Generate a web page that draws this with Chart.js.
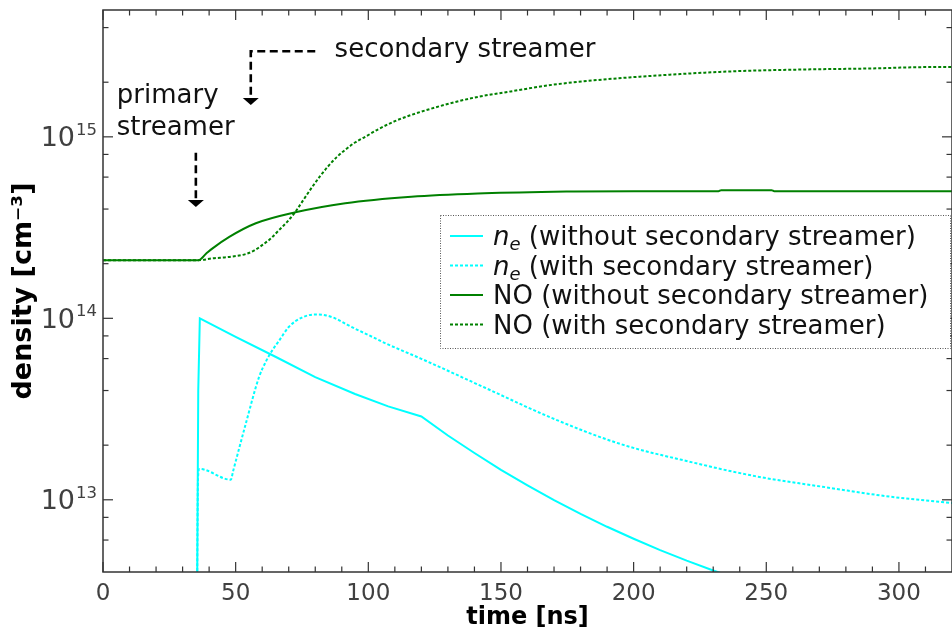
<!DOCTYPE html>
<html><head><meta charset="utf-8">
<script src="https://cdn.jsdelivr.net/npm/chart.js@4.4.0/dist/chart.umd.min.js"></script>
<style>html,body{margin:0;padding:0;background:#fff;}canvas{display:block;}</style>
</head><body>
<canvas id="c" width="952" height="633"></canvas>
<script>
// ---------- data ----------
const seriesNames = [
  'n_e (without secondary streamer)',
  'n_e (with secondary streamer)',
  'NO (without secondary streamer)',
  'NO (with secondary streamer)'
];

const timeNeWithout = [35.3, 35.9, 36.5, 50, 65, 80, 95, 107.5, 120, 130, 140, 150, 160, 170, 180, 190, 200, 210, 220, 230, 240];
const neWithout     = [1e12, 4e13, 1.0e14, 7.91e13, 6.14e13, 4.74e13, 3.83e13, 3.27e13, 2.88e13, 2.26e13, 1.81e13, 1.46e13, 1.20e13, 9.95e12, 8.36e12, 7.10e12, 6.10e12, 5.28e12, 4.62e12, 4.08e12, 3.63e12];

const timeNeWith = [35.3, 35.8, 36.3, 48.2, 49, 53.8, 58.8, 61.3, 63.8, 66.3, 70, 75, 80, 83.8, 87.5, 91.3, 95, 101.2, 106.3, 113.7, 120, 144.2, 169.5, 195, 220.4, 245.8, 271.2, 296.7, 320];
const neWith     = [1e12, 1.3e13, 1.48e13, 1.29e13, 1.43e13, 2.62e13, 4.74e13, 5.74e13, 6.66e13, 7.5e13, 8.96e13, 1.01e14, 1.05e14, 1.04e14, 1.0e14, 9.35e13, 8.77e13, 7.94e13, 7.3e13, 6.55e13, 5.98e13, 4.13e13, 2.81e13, 2.03e13, 1.63e13, 1.35e13, 1.18e13, 1.04e13, 9.6e12];

const timeNOWithout = [0, 36, 39, 41.3, 47.6, 57.6, 72.5, 91.3, 116.2, 141.2, 169.9, 176, 200, 232, 233, 252, 253, 320];
const noWithout     = [2.09e14, 2.09e14, 2.28e14, 2.43e14, 2.81e14, 3.34e14, 3.84e14, 4.31e14, 4.68e14, 4.88e14, 4.99e14, 5.0e14, 5.02e14, 5.02e14, 5.08e14, 5.08e14, 5.02e14, 5.02e14];

const timeNOWith = [0, 36, 41.3, 47.6, 53.8, 56.9, 60, 63.2, 66.3, 69.4, 72.5, 75.7, 78.8, 81.9, 85, 88.1, 91.3, 95, 98.8, 103.7, 110, 116.2, 128.7, 141.2, 153.7, 169.9, 188.6, 213.6, 238.6, 263.6, 288.5, 307.2, 320];
const noWith     = [2.09e14, 2.09e14, 2.14e14, 2.18e14, 2.26e14, 2.36e14, 2.53e14, 2.75e14, 3.06e14, 3.40e14, 3.86e14, 4.53e14, 5.28e14, 6.09e14, 6.92e14, 7.73e14, 8.48e14, 9.31e14, 1.0e15, 1.10e15, 1.22e15, 1.32e15, 1.50e15, 1.66e15, 1.78e15, 1.94e15, 2.07e15, 2.20e15, 2.30e15, 2.35e15, 2.38e15, 2.42e15, 2.43e15];

const xMajorTicks = [0, 50, 100, 150, 200, 250, 300];
const xMinorTicks = [10, 20, 30, 40, 60, 70, 80, 90, 110, 120, 130, 140, 160, 170, 180, 190, 210, 220, 230, 240, 260, 270, 280, 290, 310];
const yMajorTicks = [1e13, 1e14, 1e15];
const yMinorTicks = [6e12, 8e12, 2e13, 4e13, 6e13, 8e13, 2e14, 4e14, 6e14, 8e14, 2e15, 4e15];

// annotation anchors in data units
const primaryArrow   = {x: 35, yFrom: 8.16e14, yTo: 4.1e14};
const primaryText    = {x: 5.2, y: 1.54e15, lines: ['primary', 'streamer']};
const secondaryArrow = {xFrom: 80, xCorner: 55.7, yCorner: 2.96e15, yTo: 1.5e15};
const secondaryText  = {x: 87.3, y: 2.77e15, text: 'secondary streamer'};

// ---------- helpers ----------
const pts = (xs, ys) => xs.map((x, i) => ({x: x, y: ys[i]}));
const FONT = '"DejaVu Sans", "Liberation Sans", sans-serif';
const CYAN = '#00ffff', GREEN = '#008000';

const framePlugin = {
  id: 'frame',
  afterDraw(chart) {
    const {ctx, chartArea: a, scales: {x, y}} = chart;
    ctx.save();
    ctx.strokeStyle = '#333';
    ctx.lineWidth = 1.5;
    ctx.strokeRect(a.left, a.top, a.right - a.left, a.bottom - a.top);
    ctx.lineWidth = 1.2;
    const tick = (x1, y1, x2, y2) => { ctx.beginPath(); ctx.moveTo(x1, y1); ctx.lineTo(x2, y2); ctx.stroke(); };
    xMajorTicks.forEach(v => { const p = x.getPixelForValue(v); tick(p, a.bottom, p, a.bottom - 10); tick(p, a.top, p, a.top + 10); });
    xMinorTicks.forEach(v => { const p = x.getPixelForValue(v); tick(p, a.bottom, p, a.bottom - 5.5); tick(p, a.top, p, a.top + 5.5); });
    yMajorTicks.forEach(v => { const p = y.getPixelForValue(v); tick(a.left, p, a.left + 10, p); tick(a.right, p, a.right - 10, p); });
    yMinorTicks.forEach(v => { const p = y.getPixelForValue(v); tick(a.left, p, a.left + 5.5, p); tick(a.right, p, a.right - 5.5, p); });
    // y tick labels: 10 with a raised exponent
    ctx.fillStyle = '#404040';
    ctx.textAlign = 'right';
    ctx.textBaseline = 'alphabetic';
    yMajorTicks.forEach(v => {
      const p = y.getPixelForValue(v);
      const exp = String(Math.round(Math.log10(v)));
      const xr = a.left - 6;
      ctx.font = '16.5px ' + FONT;
      const ew = ctx.measureText(exp).width;
      ctx.fillText(exp, xr, p - 2);
      ctx.font = '27px ' + FONT;
      ctx.fillText('10', xr - ew - 1, p + 9.5);
    });
    ctx.restore();
  }
};

function arrowHead(ctx, px, py) {
  ctx.beginPath();
  ctx.moveTo(px - 8, py - 7);
  ctx.lineTo(px + 8, py - 7);
  ctx.lineTo(px, py);
  ctx.closePath();
  ctx.fill();
}

const annotationPlugin = {
  id: 'notes',
  afterDraw(chart) {
    const {ctx, scales: {x, y}} = chart;
    ctx.save();
    ctx.strokeStyle = '#000';
    ctx.fillStyle = '#000';
    ctx.lineWidth = 2.6;
    ctx.setLineDash([8, 4.5]);
    const px = x.getPixelForValue(primaryArrow.x);
    const py1 = y.getPixelForValue(primaryArrow.yFrom), py2 = y.getPixelForValue(primaryArrow.yTo);
    ctx.beginPath(); ctx.moveTo(px, py1); ctx.lineTo(px, py2 - 6); ctx.stroke();
    const sx1 = x.getPixelForValue(secondaryArrow.xFrom), sx2 = x.getPixelForValue(secondaryArrow.xCorner);
    const sy1 = y.getPixelForValue(secondaryArrow.yCorner), sy2 = y.getPixelForValue(secondaryArrow.yTo);
    ctx.beginPath(); ctx.moveTo(sx1, sy1); ctx.lineTo(sx2, sy1); ctx.lineTo(sx2, sy2 - 6); ctx.stroke();
    ctx.setLineDash([]);
    arrowHead(ctx, px, py2);
    arrowHead(ctx, sx2, sy2);
    ctx.font = '26px ' + FONT;
    ctx.fillStyle = '#111';
    ctx.textAlign = 'left';
    ctx.textBaseline = 'alphabetic';
    const tx = x.getPixelForValue(primaryText.x), ty = y.getPixelForValue(primaryText.y);
    primaryText.lines.forEach((l, i) => ctx.fillText(l, tx, ty + i * 32));
    ctx.fillText(secondaryText.text, x.getPixelForValue(secondaryText.x), y.getPixelForValue(secondaryText.y));
    ctx.restore();
  }
};

const legendPlugin = {
  id: 'boxLegend',
  afterDraw(chart) {
    const {ctx} = chart;
    const bx = 440, by = 215, bw = 510, bh = 133;
    ctx.save();
    ctx.fillStyle = '#fff';
    ctx.fillRect(bx, by, bw, bh);
    ctx.strokeStyle = '#555';
    ctx.lineWidth = 1;
    ctx.setLineDash([1, 1.5]);
    ctx.strokeRect(bx + 0.5, by + 0.5, bw, bh);
    chart.data.datasets.forEach((ds, i) => {
      const cy = by + 21 + i * 29.5;
      ctx.strokeStyle = ds.borderColor;
      ctx.lineWidth = ds.borderWidth;
      ctx.setLineDash(ds.borderDash || []);
      ctx.beginPath(); ctx.moveTo(450, cy); ctx.lineTo(483, cy); ctx.stroke();
      ctx.fillStyle = '#111';
      ctx.textBaseline = 'alphabetic';
      let tx = 493;
      const base = cy + 9;
      let rest = ds.label;
      if (rest.startsWith('n_e')) {
        ctx.font = 'italic 26px ' + FONT;
        ctx.fillText('n', tx, base);
        tx += ctx.measureText('n').width;
        ctx.font = 'italic 18px ' + FONT;
        ctx.fillText('e', tx, base + 5);
        tx += ctx.measureText('e').width;
        rest = rest.slice(3);
      }
      ctx.font = '26px ' + FONT;
      ctx.fillText(rest, tx, base);
    });
    ctx.restore();
  }
};

new Chart(document.getElementById('c').getContext('2d'), {
  type: 'line',
  data: {
    datasets: [
      {label: seriesNames[0], data: pts(timeNeWithout, neWithout), borderColor: CYAN, borderWidth: 2},
      {label: seriesNames[1], data: pts(timeNeWith, neWith), borderColor: CYAN, borderWidth: 2, borderDash: [3, 2], cubicInterpolationMode: 'monotone'},
      {label: seriesNames[2], data: pts(timeNOWithout, noWithout), borderColor: GREEN, borderWidth: 2, cubicInterpolationMode: 'monotone'},
      {label: seriesNames[3], data: pts(timeNOWith, noWith), borderColor: GREEN, borderWidth: 2, borderDash: [3, 2], cubicInterpolationMode: 'monotone'}
    ]
  },
  options: {
    responsive: false,
    animation: false,
    devicePixelRatio: 1,
    elements: {point: {radius: 0}, line: {tension: 0, fill: false}},
    layout: {padding: {left: 0, top: 10, right: -6, bottom: 0}},
    plugins: {legend: {display: false}, tooltip: {enabled: false}},
    scales: {
      x: {
        type: 'linear', min: 0, max: 320, position: 'bottom',
        grid: {display: false}, border: {display: false},
        afterBuildTicks: s => { s.ticks = xMajorTicks.map(v => ({value: v})); },
        afterFit: s => { s.height = 61; s.paddingLeft = 0; s.paddingRight = 0; },
        ticks: {font: {family: FONT, size: 23}, color: '#404040', padding: 0, maxRotation: 0, autoSkip: false},
        title: {display: true, text: 'time [ns]', color: '#000', font: {family: FONT, size: 24, weight: 'bold'}, padding: {top: 0, bottom: 1}}
      },
      y: {
        type: 'logarithmic', min: 4e12, max: 5e15, position: 'left',
        grid: {display: false}, border: {display: false},
        afterBuildTicks: s => { s.ticks = yMajorTicks.map(v => ({value: v})); },
        afterFit: s => { s.width = 103; s.paddingTop = 0; s.paddingBottom = 0; },
        ticks: {display: false},
        title: {display: true, text: 'density [cm\u207B\u00B3]', color: '#000', font: {family: FONT, size: 27, weight: 'bold'}, padding: {top: 8, bottom: 0}}
      }
    }
  },
  plugins: [framePlugin, annotationPlugin, legendPlugin]
});
</script>
</body></html>
